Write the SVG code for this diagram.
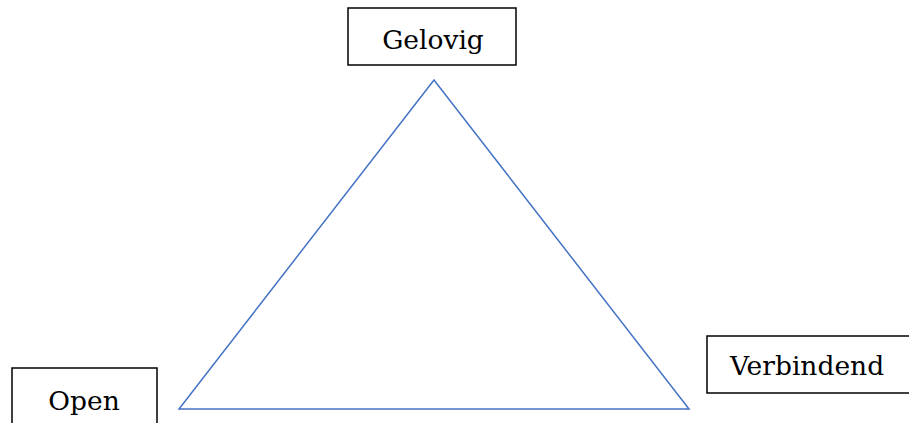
<svg xmlns="http://www.w3.org/2000/svg" width="909" height="423" viewBox="0 0 909 423">
<style>
.box{fill:#fff;stroke:#000;stroke-width:1.5}
.lbl{font-family:"DejaVu Serif","Liberation Serif",serif;font-size:26.5px;fill:#000}
.edge{fill:none;stroke:#4472C4;stroke-width:1.5}
</style>
<rect width="909" height="423" fill="#fff"/>
<g id="connectors">
<path class="edge" d="M434,80 L689,409 L179,409 Z"/>
</g>
<g id="gelovig">
<rect class="box" x="348" y="8" width="168" height="57"/>
<text class="lbl" x="433" y="49" text-anchor="middle">Gelovig</text>
</g>
<g id="open">
<rect class="box" x="12" y="368" width="145" height="70"/>
<text class="lbl" x="84" y="410" text-anchor="middle">Open</text>
</g>
<g id="verbindend">
<rect class="box" x="707" y="336" width="220" height="57"/>
<text class="lbl" x="807" y="375" text-anchor="middle">Verbindend</text>
</g>
</svg>
